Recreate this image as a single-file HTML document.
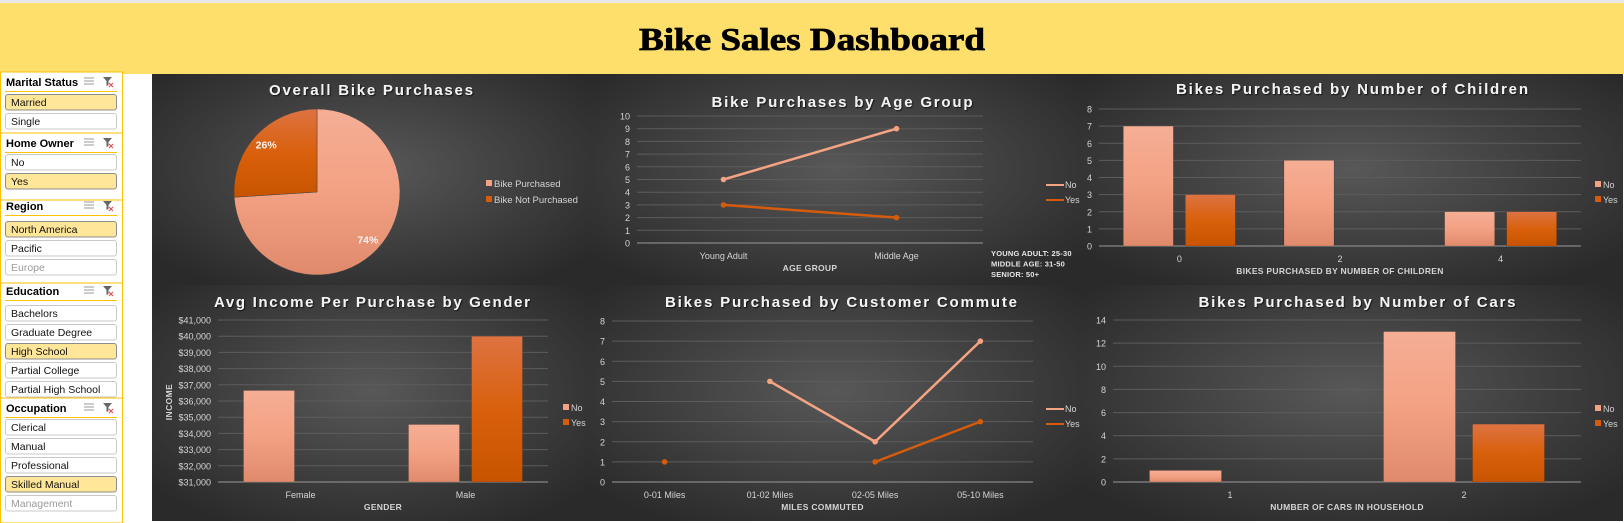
<!DOCTYPE html>
<html><head><meta charset="utf-8"><title>Bike Sales Dashboard</title>
<style>
html,body{margin:0;padding:0;background:#fff;width:1624px;height:523px;overflow:hidden}
svg{display:block;font-family:"Liberation Sans",sans-serif}
</style></head>
<body>
<svg id="root" width="1624" height="523" viewBox="0 0 1624 523" xmlns="http://www.w3.org/2000/svg">
<defs>
<radialGradient id="bg" cx="50%" cy="45%" r="65%"><stop offset="0" stop-color="#585858"/><stop offset="1" stop-color="#2a2a2a"/></radialGradient>
<linearGradient id="gNo" x1="0" y1="0" x2="0" y2="1"><stop offset="0" stop-color="#f5ae95"/><stop offset="0.5" stop-color="#f3a183"/><stop offset="1" stop-color="#e08a6c"/></linearGradient>
<linearGradient id="gYes" x1="0" y1="0" x2="0" y2="1"><stop offset="0" stop-color="#dd7342"/><stop offset="0.5" stop-color="#d9600c"/><stop offset="1" stop-color="#c85400"/></linearGradient>
<filter id="ts"><feDropShadow dx="1" dy="1" stdDeviation="0.6" flood-color="#000" flood-opacity="0.7"/></filter>
</defs>
<g id="excel-grid">
<rect x="0" y="0" width="1624" height="3" fill="#e8e8e8"/>
</g>
<rect x="0" y="3" width="1624" height="71" fill="#ffdf6b"/>
<text x="812" y="50" text-anchor="middle" font-family="'Liberation Serif',serif" font-weight="bold" font-size="32" textLength="346" lengthAdjust="spacingAndGlyphs" fill="#000" stroke="#000" stroke-width="0.8">Bike Sales Dashboard</text>
<rect x="152" y="74" width="1471" height="447" fill="#2e2e2e"/>
<g id="slicers"></g>
<g id="charts"></g>
</svg>
<script>
// ---------------- data ----------------
const pieLabels = ['Bike Purchased', 'Bike Not Purchased'];
const pieValues = [74, 26];

const ageCats = ['Young Adult', 'Middle Age'];
const ageNo = [5, 9];
const ageYes = [3, 2];
const ageTicks = [0, 1, 2, 3, 4, 5, 6, 7, 8, 9, 10];

const childCats = ['0', '2', '4'];
const childNo = [7, 5, 2];
const childYes = [3, 0, 2];
const childTicks = [0, 1, 2, 3, 4, 5, 6, 7, 8];

const genderCats = ['Female', 'Male'];
const genderNo = [36650, 34550];
const genderYes = [null, 40000];
const genderTicks = [31000, 32000, 33000, 34000, 35000, 36000, 37000, 38000, 39000, 40000, 41000];

const commuteCats = ['0-01 Miles', '01-02 Miles', '02-05 Miles', '05-10 Miles'];
const commuteNo = [null, 5, 2, 7];
const commuteYes = [1, null, 1, 3];
const commuteTicks = [0, 1, 2, 3, 4, 5, 6, 7, 8];

const carCats = ['1', '2'];
const carNo = [1, 13];
const carYes = [0, 5];
const carTicks = [0, 2, 4, 6, 8, 10, 12, 14];

const seriesNames = ['No', 'Yes'];
// --------------------------------------
const NS = 'http://www.w3.org/2000/svg';
function el(tag, attrs, parent, txt) {
  const e = document.createElementNS(NS, tag);
  for (const k in attrs) e.setAttribute(k, attrs[k]);
  if (txt !== undefined) e.textContent = txt;
  (parent || document.getElementById('root')).appendChild(e);
  return e;
}
const charts = document.getElementById('charts');

function panel(x, y, w, h, name) {
  const g = el('g', {}, charts);
  
  
  const r = el('rect', {x: x, y: y, width: w, height: h, fill: 'url(#bg)'}, g);
  
  
  return g;
}
function title(g, cx, y, txt, len) {
  const t = el('text', {x: cx, y: y, 'text-anchor': 'middle', 'font-size': 15, 'font-weight': 'bold', fill: '#f2f2f2', textLength: len, lengthAdjust: 'spacing', filter: 'url(#ts)'}, g, txt);
  
  
}
function axes(g, ax, ticks, cats, fmt, xTitle) {
  const yf = v => ax.y0 - (v - ticks[0]) / (ticks[ticks.length - 1] - ticks[0]) * (ax.y0 - ax.yTop);
  const bw = (ax.x1 - ax.x0) / cats.length;
  const xf = i => ax.x0 + bw * (i + 0.5);
  ticks.forEach(t => {
    const yy = yf(t);
    const gl = el('line', {x1: ax.x0, x2: ax.x1, y1: yy, y2: yy, stroke: t === ticks[0] ? '#9a9a9a' : '#5c5c5c', 'stroke-width': 1}, g);
    
    
    const tl = el('text', {x: ax.x0 - 7, y: yy + 3.5, 'text-anchor': 'end', 'font-size': 9, fill: '#d4d4d4'}, g, fmt(t));
    
    
  });
  cats.forEach((c, i) => {
    const cl = el('text', {x: xf(i), y: ax.y0 + 16, 'text-anchor': 'middle', 'font-size': 9, fill: '#d4d4d4'}, g, c);
    
    
  });
  const xt = el('text', {x: (ax.x0 + ax.x1) / 2, y: ax.y0 + 28, 'text-anchor': 'middle', 'font-size': 8.5, 'font-weight': 'bold', fill: '#d4d4d4', 'letter-spacing': '0.3'}, g, xTitle);
  
  
  return {yf: yf, xf: xf, bw: bw};
}
function bars(g, A, ax, no, yes, barW, gap) {
  [no, yes].forEach((arr, s) => {
    arr.forEach((v, i) => {
      if (v === null || v === undefined) return;
      const top = A.yf(v), base = ax.y0;
      if (base - top <= 0) return;
      const x = s === 0 ? A.xf(i) - gap / 2 - barW : A.xf(i) + gap / 2;
      const b = el('rect', {x: x, y: top, width: barW, height: base - top, fill: s === 0 ? 'url(#gNo)' : 'url(#gYes)', stroke: 'rgba(0,0,0,0.25)', 'stroke-width': 0.5}, g);
      
      
    });
  });
}
function lines(g, A, no, yes) {
  [no, yes].forEach((arr, s) => {
    const col = s === 0 ? '#f4a383' : '#d45c0c';
    for (let i = 0; i < arr.length - 1; i++) {
      if (arr[i] === null || arr[i + 1] === null) continue;
      const ln = el('line', {x1: A.xf(i), y1: A.yf(arr[i]), x2: A.xf(i + 1), y2: A.yf(arr[i + 1]), stroke: col, 'stroke-width': 2.5, 'stroke-linecap': 'round'}, g);
      
      
    }
    arr.forEach((v, i) => {
      if (v === null) return;
      const p = el('circle', {cx: A.xf(i), cy: A.yf(v), r: 2.8, fill: col}, g);
      
      
    });
  });
}
function barLegend(g, x, y) {
  seriesNames.forEach((n, i) => {
    const sw = el('rect', {x: x, y: y + i * 15 - 7, width: 6, height: 6, fill: i === 0 ? '#f3a183' : '#d55c0a'}, g);
    
    
    const t = el('text', {x: x + 8, y: y + i * 15, 'font-size': 9, fill: '#d4d4d4'}, g, n);
    
    
  });
}
function lineLegend(g, x, y) {
  seriesNames.forEach((n, i) => {
    const col = i === 0 ? '#f4a383' : '#d45c0c';
    const ln = el('line', {x1: x, x2: x + 18, y1: y + i * 15 - 3, y2: y + i * 15 - 3, stroke: col, 'stroke-width': 2}, g);
    
    
    const t = el('text', {x: x + 19, y: y + i * 15, 'font-size': 9, fill: '#d4d4d4'}, g, n);
    
    
  });
}
const ROW = 285;

// ---- Chart 1: pie ----
(function () {
  const g = panel(152, 74, 438, ROW - 74, 'overall-purchases-chart');
  title(g, 371, 95, 'Overall Bike Purchases', 204);
  const cx = 317, cy = 192, r = 83;
  const total = pieValues.reduce((a, b) => a + b, 0);
  let a0 = 0;
  const fills = ['url(#gNo)', 'url(#gYes)'];
  pieValues.forEach((v, i) => {
    const a1 = a0 + v / total * Math.PI * 2;
    const p = (a) => [cx + r * Math.sin(a), cy - r * Math.cos(a)];
    const s = p(a0), e = p(a1);
    const large = (a1 - a0) > Math.PI ? 1 : 0;
    const path = el('path', {d: `M${cx},${cy} L${s[0]},${s[1]} A${r},${r} 0 ${large} 1 ${e[0]},${e[1]} Z`, fill: fills[i], stroke: '#444', 'stroke-width': 0.5}, g);
    
    
    const m = (a0 + a1) / 2;
    const lbl = el('text', {x: cx + 0.84 * r * Math.sin(m), y: cy - 0.84 * r * Math.cos(m) + 4, 'text-anchor': 'middle', 'font-size': 10.5, 'font-weight': 'bold', fill: '#f4f4f4'}, g, Math.round(v / total * 100) + '%');
    
    
    a0 = a1;
  });
  pieLabels.forEach((n, i) => {
    const sw = el('rect', {x: 486, y: 180 + i * 16, width: 6, height: 6, fill: i === 0 ? '#f3a183' : '#d55c0a'}, g);
    
    
    const t = el('text', {x: 494, y: 187 + i * 16, 'font-size': 9.5, fill: '#d4d4d4'}, g, n);
    
    
  });
})();

// ---- Chart 2: age group ----
(function () {
  const g = panel(590, 74, 492, ROW - 74, 'age-group-chart');
  title(g, 842, 107, 'Bike Purchases by Age Group', 261);
  const ax = {x0: 637, x1: 983, yTop: 116, y0: 243};
  const A = axes(g, ax, ageTicks, ageCats, v => String(v), 'AGE GROUP');
  lines(g, A, ageNo, ageYes);
  lineLegend(g, 1046, 188);
  ['YOUNG ADULT: 25-30', 'MIDDLE AGE: 31-50', 'SENIOR: 50+'].forEach((s, i) => {
    const t = el('text', {x: 991, y: 256 + i * 10.5, 'font-size': 7.5, 'font-weight': 'bold', fill: '#e6e6e6', 'letter-spacing': '0.2'}, g, s);
    
    
  });
})();

// ---- Chart 3: children ----
(function () {
  const g = panel(1082, 74, 541, ROW - 74, 'children-chart');
  title(g, 1352, 94, 'Bikes Purchased by Number of Children', 352);
  const ax = {x0: 1099, x1: 1581, yTop: 109, y0: 246};
  const A = axes(g, ax, childTicks, childCats, v => String(v), 'BIKES PURCHASED BY NUMBER OF CHILDREN');
  bars(g, A, ax, childNo, childYes, 50, 12);
  barLegend(g, 1595, 188);
})();

// ---- Chart 4: gender ----
(function () {
  const g = panel(152, ROW, 438, 521 - ROW, 'income-by-gender-chart');
  title(g, 372, 307, 'Avg Income Per Purchase by Gender', 316);
  const ax = {x0: 218, x1: 548, yTop: 320, y0: 482};
  const A = axes(g, ax, genderTicks, genderCats, v => '$' + v.toLocaleString('en-US'), 'GENDER');
  bars(g, A, ax, genderNo, genderYes, 51, 12);
  const yt = el('text', {x: 0, y: 0, transform: 'translate(172,402) rotate(-90)', 'text-anchor': 'middle', 'font-size': 8.5, 'font-weight': 'bold', fill: '#d4d4d4', 'letter-spacing': '0.4'}, g, 'INCOME');
  
  
  barLegend(g, 563, 411);
})();

// ---- Chart 5: commute ----
(function () {
  const g = panel(590, ROW, 492, 521 - ROW, 'commute-chart');
  title(g, 841, 307, 'Bikes Purchased by Customer Commute', 352);
  const ax = {x0: 612, x1: 1033, yTop: 321, y0: 482};
  const A = axes(g, ax, commuteTicks, commuteCats, v => String(v), 'MILES COMMUTED');
  lines(g, A, commuteNo, commuteYes);
  lineLegend(g, 1046, 412);
})();

// ---- Chart 6: cars ----
(function () {
  const g = panel(1082, ROW, 541, 521 - ROW, 'cars-chart');
  title(g, 1357, 307, 'Bikes Purchased by Number of Cars', 317);
  const ax = {x0: 1113, x1: 1581, yTop: 320, y0: 482};
  const A = axes(g, ax, carTicks, carCats, v => String(v), 'NUMBER OF CARS IN HOUSEHOLD');
  bars(g, A, ax, carNo, carYes, 72, 17);
  barLegend(g, 1595, 412);
})();

// ---- Slicers ----
const slicerG = document.getElementById('slicers');
const slicers = [
  {name: 'Marital Status', top: 72, bottom: 133, hy: 86, items: [['Married', 1], ['Single', 0]], by: 94},
  {name: 'Home Owner', top: 133, bottom: 200, hy: 147, items: [['No', 0], ['Yes', 1]], by: 154},
  {name: 'Region', top: 200, bottom: 283, hy: 210, items: [['North America', 1], ['Pacific', 0], ['Europe', 2]], by: 221},
  {name: 'Education', top: 283, bottom: 398, hy: 295, items: [['Bachelors', 0], ['Graduate Degree', 0], ['High School', 1], ['Partial College', 0], ['Partial High School', 0]], by: 305},
  {name: 'Occupation', top: 398, bottom: 523, hy: 412, items: [['Clerical', 0], ['Manual', 0], ['Professional', 0], ['Skilled Manual', 1], ['Management', 2]], by: 419}
];
slicers.forEach(s => {
  const key = s.name.toLowerCase().replace(/ /g, '-');
  const g = el('g', {}, slicerG);
  
  
  const fr = el('rect', {x: 0.5, y: s.top, width: 122, height: s.bottom - s.top, fill: '#fff', stroke: '#ffc000', 'stroke-width': 1}, g);
  
  
  const h = el('text', {x: 6, y: s.hy, 'font-size': 11, 'font-weight': 'bold', fill: '#000'}, g, s.name);
  
  
  const ms = el('g', {stroke: '#999', 'stroke-width': 1}, g);
  
  
  [0, 3, 6].forEach(d => { el('line', {x1: 84, x2: 94, y1: s.hy - 8 + d, y2: s.hy - 8 + d}, ms); });
  const cf = el('g', {}, g);
  
  
  el('path', {d: `M103,${s.hy - 9} h9 l-3.5,4 v4 l-2,1 v-5 z`, fill: '#666'}, cf);
  el('path', {d: `M109,${s.hy - 3} l4,4 M113,${s.hy - 3} l-4,4`, stroke: '#e05050', 'stroke-width': 1.2}, cf);
  const ul = el('line', {x1: 5, x2: 117, y1: s.hy + 5.5, y2: s.hy + 5.5, stroke: '#ffc000', 'stroke-width': 1}, g);
  
  
  s.items.forEach((it, i) => {
    const y = s.by + i * 19;
    const b = el('rect', {x: 5.5, y: y + 0.5, width: 111, height: 15.5, rx: 2.5, fill: it[1] === 1 ? '#ffe699' : '#fff', stroke: it[1] === 1 ? '#8c8c8c' : '#c8c8c8', 'stroke-width': 1}, g);
    
    
    const t = el('text', {x: 11, y: y + 12, 'font-size': 10.5, fill: it[1] === 2 ? '#9a9a9a' : '#111'}, g, it[0]);
    
    
  });
});
</script>
</body></html>
